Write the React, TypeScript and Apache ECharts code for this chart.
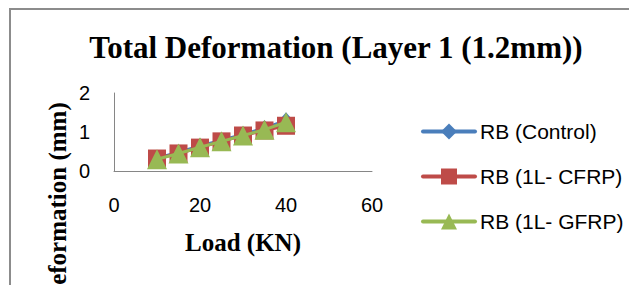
import React, { useEffect, useRef } from "react";
import * as echarts from "echarts";

const titleText = "Total Deformation (Layer 1 (1.2mm))";
const xName = "Load (KN)";
const yName = "Total Deformation (mm)";
const seriesNames = ["RB (Control)", "RB (1L- CFRP)", "RB (1L- GFRP)"];
const loads = [10, 15, 20, 25, 30, 35, 40];
const control = [0.33, 0.48, 0.64, 0.79, 0.94, 1.1, 1.3];
const cfrp = [0.32, 0.45, 0.6, 0.76, 0.91, 1.04, 1.16];
const gfrp = [0.3, 0.45, 0.61, 0.76, 0.91, 1.06, 1.25];
const xMin = 0, xMax = 60, xStep = 20;
const yMin = 0, yMax = 2, yStep = 1;

const colors = ["#4A7EBB", "#BE4B48", "#98B954"];
const symbols = ["diamond", "rect", "triangle"];
const symbolSizes = [[14, 16], 18, 20];

export default function App() {
  const ref = useRef<HTMLDivElement>(null);
  useEffect(() => {
    if (!ref.current) return;
    const chart = echarts.init(ref.current, null, { renderer: "svg" });
    const all = [control, cfrp, gfrp];
    chart.setOption({
      animation: false,
      title: {
        text: titleText,
        left: 320,
        textAlign: "center",
        top: 17,
        textStyle: { fontFamily: "Liberation Serif", fontWeight: "bold", fontSize: 31, color: "#000" },
      },
      grid: { left: 103, top: 83, width: 258, height: 78 },
      xAxis: {
        type: "value",
        min: xMin,
        max: xMax,
        interval: xStep,
        name: xName,
        nameLocation: "middle",
        nameGap: 59,
        nameTextStyle: { fontFamily: "Liberation Serif", fontWeight: "bold", fontSize: 25, color: "#000" },
        axisLine: { show: true, lineStyle: { color: "#868686", width: 1 } },
        axisTick: { show: false },
        splitLine: { show: false },
        axisLabel: { margin: 24, fontFamily: "Liberation Sans", fontSize: 20, color: "#000" },
      },
      yAxis: {
        type: "value",
        min: yMin,
        max: yMax,
        interval: yStep,
        axisLine: { show: true, lineStyle: { color: "#868686", width: 1 } },
        axisTick: { show: false },
        splitLine: { show: false },
        axisLabel: { margin: 24, fontFamily: "Liberation Sans", fontSize: 20, color: "#000" },
      },
      legend: {
        orient: "vertical",
        left: 405,
        top: 106,
        itemWidth: 52,
        itemHeight: 20,
        itemGap: 24,
        lineStyle: { width: 4, cap: "round" },
        textStyle: { fontFamily: "Liberation Sans", fontSize: 21, color: "#000", lineHeight: 20 },
        data: seriesNames,
      },
      graphic: [
        {
          type: "text",
          x: 46,
          y: 223,
          rotation: Math.PI / 2,
          style: {
            text: yName,
            font: 'bold 25px "Liberation Serif"',
            fill: "#000",
            align: "center",
            verticalAlign: "middle",
          },
        },
      ],
      series: seriesNames.map((name, i) => ({
        name,
        type: "line",
        data: loads.map((x, j) => [x, all[i][j]]),
        symbol: symbols[i],
        symbolSize: symbolSizes[i],
        lineStyle: { color: colors[i], width: 3 },
        itemStyle: { color: colors[i] },
        z: 2 + i,
      })),
    });
    return () => chart.dispose();
  }, []);
  return (
    <div
      style={{
        position: "absolute",
        left: 9,
        top: 8,
        width: 620,
        height: 277,
        boxSizing: "border-box",
        borderLeft: "2px solid #8c8c8c",
        borderTop: "2px solid #8c8c8c",
        overflow: "hidden",
        background: "#fff",
      }}
    >
      <div ref={ref} style={{ width: 618, height: 275 }} />
    </div>
  );
}
